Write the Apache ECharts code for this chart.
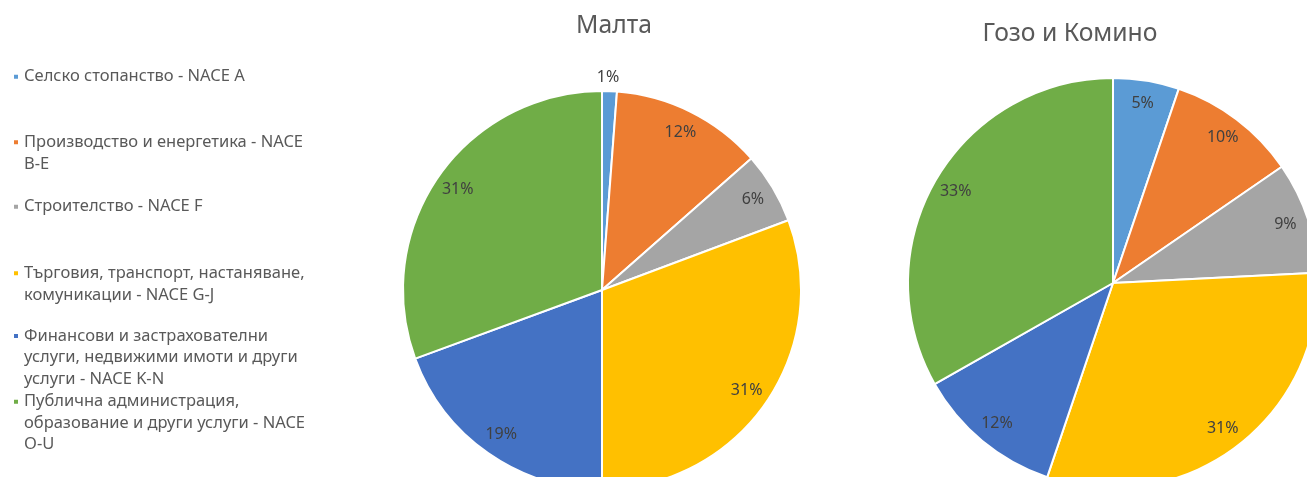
<!DOCTYPE html>
<html>
<head>
<meta charset="utf-8">
<script src="https://cdn.jsdelivr.net/npm/echarts@6/dist/echarts.min.js"></script>
<style>
  html, body { margin: 0; padding: 0; background: #fff; }
  #chart { width: 1307px; height: 477px; }
</style>
</head>
<body>
<div id="chart"></div>
<script>
// sectors (legend order = slice order, clockwise from 12 o'clock)
const categories = [
  'Селско стопанство - NACE A',
  'Производство и енергетика - NACE B-E',
  'Строителство - NACE F',
  'Търговия, транспорт, настаняване, комуникации - NACE G-J',
  'Финансови и застрахователни услуги, недвижими имоти и други услуги - NACE K-N',
  'Публична администрация, образование и други услуги - NACE O-U'
]
// wrapped legend text, as in the picture
const legendLabels = [
  'Селско стопанство - NACE A',
  'Производство и енергетика - NACE\nB-E',
  'Строителство - NACE F',
  'Търговия, транспорт, настаняване,\nкомуникации - NACE G-J',
  'Финансови и застрахователни\nуслуги, недвижими имоти и други\nуслуги - NACE K-N',
  'Публична администрация,\nобразование и други услуги - NACE\nO-U'
]
const colors = ['#5B9BD5', '#ED7D31', '#A5A5A5', '#FFC000', '#4472C4', '#70AD47']

// shares, %
const maltaValues = [1.2, 12.3, 5.8, 30.7, 19.4, 30.6]
const gozoValues = [5.2, 10.2, 8.8, 31.0, 11.6, 33.2]

const titles = ['Малта', 'Гозо и Комино']

const font = 'Noto Sans'
const lineH = 21.5
// y of the first text line of each legend entry
const legendY = [76.7, 142.3, 206.7, 273.3, 336, 401.7]

const chart = echarts.init(document.getElementById('chart'))

// one legend block per entry; blank lines on top keep the marker on the first line
const legends = categories.map((name, i) => {
  const n = legendLabels[i].split('\n').length
  return {
    data: [name],
    orient: 'vertical',
    left: 12,
    top: legendY[i] - (2 * n - 1) * lineH / 2,
    padding: 0,
    icon: 'rect',
    itemWidth: 6,
    itemHeight: 6,
    selectedMode: false,
    formatter: () => '\n'.repeat(n - 1) + legendLabels[i],
    textStyle: {
      fontFamily: font,
      fontSize: 16.5,
      color: '#595959',
      lineHeight: lineH
    }
  }
})

const pctLabel = p => Math.round(p.value) + '%'

const pie = (values, center, r) => ({
  type: 'pie',
  center: center,
  radius: r,
  startAngle: 90,
  clockwise: true,
  silent: true,
  avoidLabelOverlap: false,
  label: { show: false },
  labelLine: { show: false },
  itemStyle: { borderColor: '#fff', borderWidth: 2 },
  data: categories.map((name, i) => ({ name, value: values[i], itemStyle: { color: colors[i] } }))
})

// transparent ring that only carries the percentage labels
const labelRing = (values, center, r0, r) => ({
  type: 'pie',
  center: center,
  radius: [r0, r],
  startAngle: 90,
  clockwise: true,
  silent: true,
  avoidLabelOverlap: false,
  itemStyle: { color: 'transparent', borderWidth: 0 },
  label: {
    show: true,
    position: 'inside',
    formatter: pctLabel,
    fontFamily: font,
    fontSize: 16,
    color: '#404040'
  },
  labelLine: { show: false, length: 14, length2: 0 },
  // tiny slices get their label just outside, centred above the slice
  labelLayout: p => (values[p.dataIndex] < 3 ? { align: 'center', dx: -7 } : {}),
  data: categories.map((name, i) => ({
    name,
    value: values[i],
    label: values[i] < 3 ? { position: 'outside' } : undefined
  }))
})

chart.setOption({
  animation: false,
  backgroundColor: '#fff',
  title: [
    {
      text: titles[0], left: 614, top: 13, textAlign: 'center', padding: 0,
      textStyle: { fontFamily: font, fontSize: 24.7, fontWeight: 'normal', color: '#595959' }
    },
    {
      text: titles[1], left: 1070, top: 21, textAlign: 'center', padding: 0,
      textStyle: { fontFamily: font, fontSize: 24.7, fontWeight: 'normal', color: '#595959' }
    }
  ],
  legend: legends,
  series: [
    pie(maltaValues, [602, 290], 199),
    pie(gozoValues, [1113, 283], 205),
    labelRing(maltaValues, [602, 290], 147, 199),
    labelRing(gozoValues, [1113, 283], 153, 205)
  ]
})
</script>
</body>
</html>
